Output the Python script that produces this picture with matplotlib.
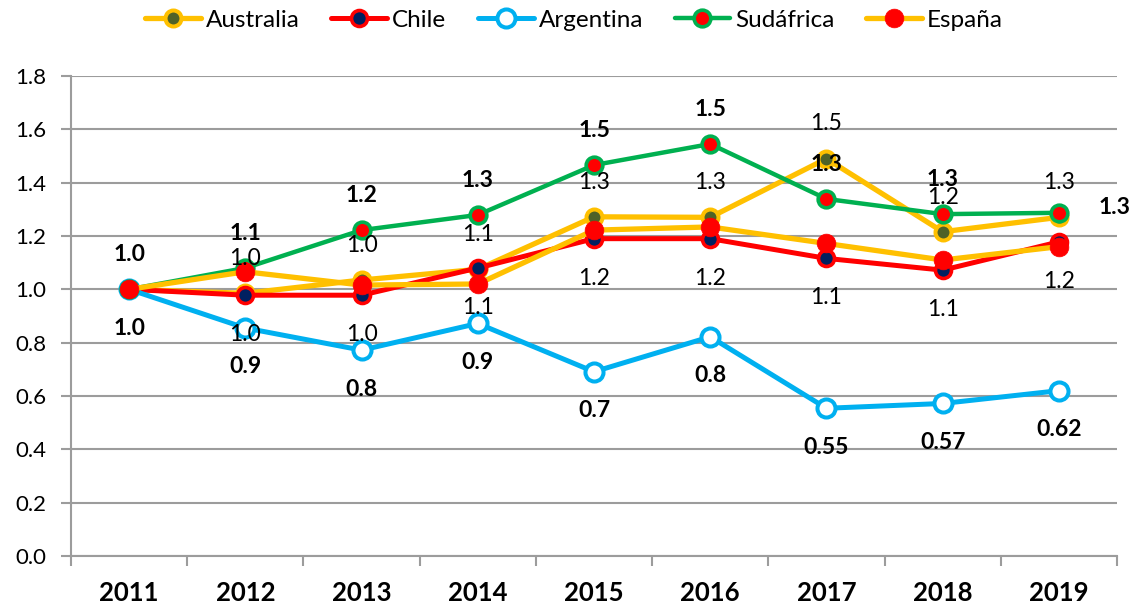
import matplotlib
matplotlib.use("Agg")
import matplotlib.pyplot as plt
from matplotlib.ticker import FixedLocator, MultipleLocator

plt.rcParams['font.family'] = ['Lato', 'DejaVu Sans']

years = ['2011', '2012', '2013', '2014', '2015', '2016', '2017', '2018', '2019']
australia = [1.0, 0.985, 1.035, 1.075, 1.272, 1.27, 1.49, 1.216, 1.27]
chile = [1.0, 0.978, 0.978, 1.08, 1.19, 1.19, 1.116, 1.072, 1.178]
argentina = [1.0, 0.855, 0.772, 0.872, 0.691, 0.822, 0.554, 0.572, 0.62]
sudafrica = [1.0, 1.08, 1.222, 1.279, 1.466, 1.545, 1.339, 1.282, 1.287]
espana = [1.0, 1.066, 1.016, 1.02, 1.222, 1.234, 1.172, 1.11, 1.16]
argentina_decimals = [1, 1, 1, 1, 1, 1, 2, 2, 2]

x = list(range(len(years)))

fig = plt.figure(figsize=(11.36, 6.04), dpi=100)
ax = fig.add_axes([71/1136, 48/604, (1117-71)/1136, (556-76)/604])

GRID = '#9C9C9C'

series = [
    ('Australia', australia, '#FFC000', '#4F6228', '#FFC000', 11.5, 2.9, 3.8),
    ('Chile', chile, '#FF0000', '#002060', '#FF0000', 11.5, 2.6, 3.6),
    ('Argentina', argentina, '#00B0F0', 'white', '#00B0F0', 13.0, 2.9, 3.6),
    ('Sudáfrica', sudafrica, '#00B050', '#FF0000', '#00B050', 12.0, 2.6, 3.2),
    ('España', espana, '#FFC000', '#FF0000', '#FF0000', 13.5, 0.5, 3.8),
]

handles = []
for i, (name, vals, lc, mfc, mec, ms, mew, lw) in enumerate(series):
    h, = ax.plot(x, vals, color=lc, lw=lw, marker='o', ms=ms, mfc=mfc, mec=mec,
                 mew=mew, zorder=3 + i, label=name, solid_capstyle='round')
    handles.append(h)

ax.set_xlim(-0.5, len(years) - 0.5)
ax.set_ylim(0, 1.8)
ax.yaxis.set_major_locator(MultipleLocator(0.2))
ax.set_yticklabels([f'{v:.1f}' for v in ax.get_yticks()])
ax.set_xticks(x)
ax.set_xticklabels(years, fontsize=18.5, fontweight='bold')
ax.xaxis.set_minor_locator(FixedLocator([i - 0.5 for i in range(len(years) + 1)]))
ax.tick_params(axis='x', which='major', length=0, pad=18)
ax.tick_params(axis='x', which='minor', length=7, width=1.5, color=GRID)
ax.tick_params(axis='y', length=7, width=1.5, color=GRID, labelsize=16, pad=11)
for lab in ax.get_yticklabels():
    lab.set_fontsize(16)

ax.grid(axis='y', color=GRID, lw=1.5, zorder=0)
ax.set_axisbelow(True)
for s in ['top', 'right']:
    ax.spines[s].set_visible(False)
for s in ['left', 'bottom']:
    ax.spines[s].set_color(GRID)
    ax.spines[s].set_linewidth(1.5)

def label(xi, v, txt, dx, dy, bold):
    ax.annotate(txt, (xi, v), xytext=(dx, dy), textcoords='offset points',
                ha='center', va='center', fontsize=16.5,
                fontweight='bold' if bold else 'normal', color='black', zorder=20)

for i in range(1, len(years)):
    label(i, australia[i], f'{australia[i]:.1f}', 0, 25, False)
    label(i, chile[i], f'{chile[i]:.1f}', 0, -28.5, False)
for i in range(len(years)):
    if i == len(years) - 1:
        label(i, sudafrica[i], f'{sudafrica[i]:.1f}', 40, 4, True)
    else:
        label(i, sudafrica[i], f'{sudafrica[i]:.1f}', 0, 25, True)
    label(i, argentina[i], f'{argentina[i]:.{argentina_decimals[i]}f}', 0, -28, True)

fig.legend(handles=handles, loc='center', bbox_to_anchor=(574/1136, 1 - 20/604),
           ncol=5, frameon=False, fontsize=17.5, handlelength=2.3,
           handletextpad=0.2, columnspacing=1.3, borderpad=0)

fig.savefig('out.png', dpi=100)
